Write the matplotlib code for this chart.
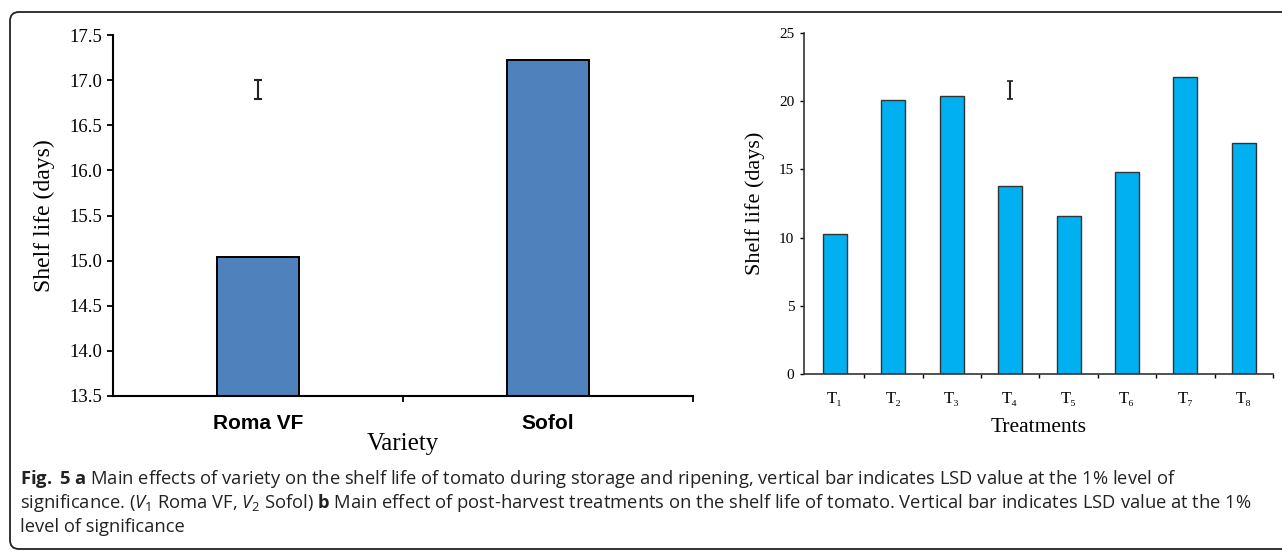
import matplotlib
matplotlib.use('Agg')
import matplotlib.pyplot as plt
from matplotlib.patches import FancyBboxPatch

# panel a: variety
varieties = ['Roma VF', 'Sofol']
variety_life = [15.04, 17.22]
lsd_a = (16.79, 17.00)

# panel b: treatments
treatments = ['T\u2081', 'T\u2082', 'T\u2083', 'T\u2084', 'T\u2085', 'T\u2086', 'T\u2087', 'T\u2088']
treatment_life = [10.25, 20.1, 20.4, 13.75, 11.55, 14.8, 21.8, 16.9]
lsd_b = (20.15, 21.5)

caption = [
    r"$\mathbf{Fig.}$ $\mathbf{5}$ $\mathbf{a}$ Main effects of variety on the shelf life of tomato during storage and ripening, vertical bar indicates LSD value at the 1% level of",
    r"significance. ($V_1$ Roma VF, $V_2$ Sofol) $\mathbf{b}$ Main effect of post-harvest treatments on the shelf life of tomato. Vertical bar indicates LSD value at the 1%",
    r"level of significance",
]

plt.rcParams['mathtext.fontset'] = 'custom'
plt.rcParams['mathtext.rm'] = 'Open Sans'
plt.rcParams['mathtext.it'] = 'Open Sans:italic'
plt.rcParams['mathtext.bf'] = 'Open Sans:bold'

W, H = 1282, 552
fig = plt.figure(figsize=(W / 100, H / 100), dpi=100)

# frame
bg = fig.add_axes([0, 0, 1, 1])
bg.set_xlim(0, W)
bg.set_ylim(H, 0)
bg.axis('off')
bg.add_patch(FancyBboxPatch((10, 12), 1400, 537, boxstyle='round,pad=0,rounding_size=9',
                            fc='white', ec='#222222', lw=1.3))

serif = ['Liberation Serif', 'DejaVu Serif']

def px(x0, y0, x1, y1):
    return [x0 / W, 1 - y1 / H, (x1 - x0) / W, (y1 - y0) / H]

# ---- panel a
ax1 = fig.add_axes(px(113, 35, 693, 396))
ax1.bar(range(len(varieties)), variety_life, width=0.285, bottom=0,
        color='#4F81BD', edgecolor='black', linewidth=1.4, zorder=2)
ax1.set_ylim(13.5, 17.5)
ax1.set_xlim(-0.5, 1.5)
ax1.set_yticks([13.5, 14.0, 14.5, 15.0, 15.5, 16.0, 16.5, 17.0, 17.5])
ax1.set_yticklabels(['%.1f' % v for v in ax1.get_yticks()], family=serif, fontsize=13.5)
ax1.set_xticks(range(len(varieties)))
ax1.set_xticklabels(varieties, family='Liberation Sans', fontweight='bold', fontsize=15)
ax1.set_xticks([0.5, 1.5], minor=True)
ax1.tick_params(axis='x', which='major', length=0, pad=13)
ax1.tick_params(axis='x', which='minor', length=4, width=1.3, direction='out')
ax1.tick_params(axis='y', length=4, width=1.3, pad=4)
for s in ['top', 'right']:
    ax1.spines[s].set_visible(False)
for s in ['left', 'bottom']:
    ax1.spines[s].set_linewidth(1.5)
ax1.set_ylabel('Shelf life (days)', family=serif, fontsize=17, labelpad=10)
ax1.set_xlabel('Variety', family=serif, fontsize=18, labelpad=0)
ax1.errorbar([0], [sum(lsd_a) / 2], yerr=[(lsd_a[1] - lsd_a[0]) / 2], fmt='none',
             ecolor='#222222', elinewidth=1.5, capsize=3, capthick=1.5)

# ---- panel b
ax2 = fig.add_axes(px(804, 33, 1273, 374))
xs = range(len(treatments))
ax2.bar(xs, treatment_life, width=0.41, color='#00B0F0', edgecolor='#333333',
        linewidth=1.0, zorder=2)
ax2.set_ylim(0, 25)
ax2.set_xlim(-0.53, 7.5)
ax2.set_yticks([0, 5, 10, 15, 20, 25])
ax2.set_yticklabels(['0', '5', '10', '15', '20', '25'], family=serif, fontsize=11)
ax2.set_xticks(list(xs))
ax2.set_xticklabels(treatments, family=serif, fontsize=12)
ax2.set_xticks([i + 0.5 for i in xs], minor=True)
ax2.tick_params(axis='x', which='major', length=0, pad=12)
ax2.tick_params(axis='x', which='minor', length=3, width=1.0)
ax2.tick_params(axis='y', length=3, width=1.0, pad=4)
for s in ['top', 'right']:
    ax2.spines[s].set_visible(False)
for s in ['left', 'bottom']:
    ax2.spines[s].set_linewidth(1.2)
    ax2.spines[s].set_color('#333333')
ax2.set_ylabel('Shelf life (days)', family=serif, fontsize=16, labelpad=10)
ax2.set_xlabel('Treatments', family=serif, fontsize=15.5, labelpad=8)
ax2.errorbar([3], [sum(lsd_b) / 2], yerr=[(lsd_b[1] - lsd_b[0]) / 2], fmt='none',
             ecolor='#222222', elinewidth=1.5, capsize=2, capthick=1.2)

# ---- caption
for i, line in enumerate(caption):
    bg.text(20, 484 + i * 24, line, fontsize=13.2, family='Open Sans',
            color='#222222', va='baseline', ha='left')

fig.savefig('out.png', dpi=100)
